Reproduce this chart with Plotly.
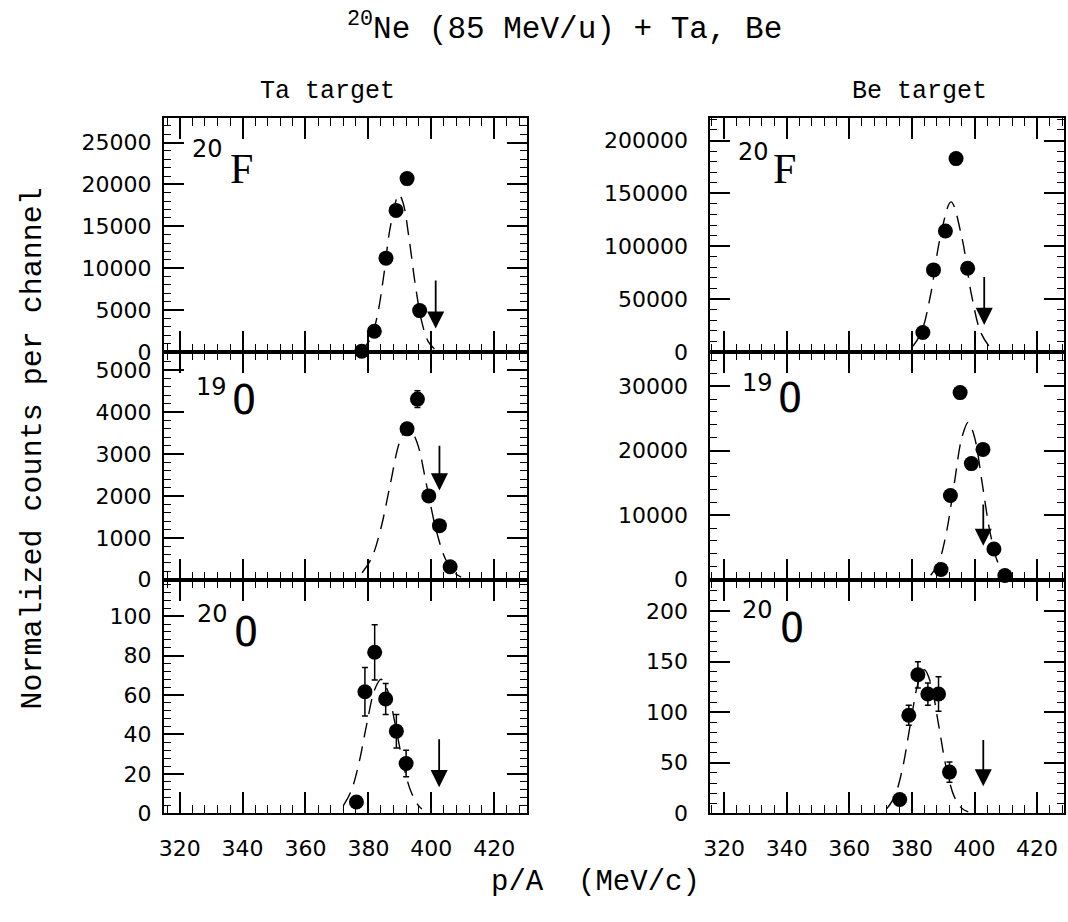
import plotly.graph_objects as go

# ---------------- data ----------------
# Ta target, 20F
ta_f20_x = [377.9, 381.9, 385.6, 388.8, 392.3, 396.3]
ta_f20_y = [100, 2470, 11200, 16900, 20700, 4940]
ta_f20_err = [0, 0, 0, 0, 0, 0]
ta_f20_fit_x = [377, 379, 381, 383, 385, 387, 389.7, 391, 393, 395, 397, 399, 401]
ta_f20_fit_y = [120, 700, 1770, 4630, 9420, 14970, 18800, 17840, 13380, 7820, 3560, 1260, 350]
ta_f20_arrow = [401.4, 8700, 2800]          # x, top, tip

# Be target, 20F
be_f20_x = [383.5, 386.9, 390.7, 394.1, 397.8]
be_f20_y = [18400, 77600, 114400, 182900, 79200]
be_f20_err = [0, 0, 0, 0, 0]
be_f20_fit_x = [380, 383, 386, 389, 392.5, 396, 399, 402, 405]
be_f20_fit_y = [4160, 18440, 54600, 107600, 142000, 107600, 54600, 18440, 4160]
be_f20_arrow = [403.1, 72300, 25600]

# Ta target, 19O
ta_o19_x = [392.3, 395.6, 399.2, 402.6, 406.0]
ta_o19_y = [3600, 4310, 2000, 1290, 310]
ta_o19_err = [0, 200, 0, 0, 0]
ta_o19_fit_x = [378, 381, 384, 387, 390, 392.7, 395.5, 398.5, 401.5, 404.5, 407.5, 409.5]
ta_o19_fit_y = [165, 511, 1233, 2295, 3296, 3660, 3270, 2258, 1204, 495, 157, 64]
ta_o19_arrow = [402.6, 3230, 2130]

# Be target, 19O
be_o19_x = [389.3, 392.3, 395.4, 399.0, 402.7, 406.2, 409.7]
be_o19_y = [1580, 13060, 29000, 18000, 20200, 4750, 660]
be_o19_err = [0, 0, 0, 0, 0, 0, 0]
be_o19_fit_x = [386, 388.5, 391, 393.5, 396, 398, 400, 402.5, 405, 407.5, 410]
be_o19_fit_y = [696, 2630, 7270, 14800, 22100, 24400, 22100, 14800, 7270, 2630, 696]
be_o19_arrow = [402.8, 11900, 5250]

# Ta target, 20O
ta_o20_x = [376.2, 378.9, 382.0, 385.5, 388.9, 392.0]
ta_o20_y = [5.8, 61.7, 81.7, 58, 41.7, 25.3]
ta_o20_err = [1.5, 12.3, 14, 7.8, 8.5, 6.7]
ta_o20_fit_x = [372, 374.5, 377, 379.5, 382, 384, 386, 388.5, 391, 393.5, 396, 397]
ta_o20_fit_y = [3.8, 11.2, 25.5, 45.4, 62.8, 68, 62.8, 45.4, 25.5, 11.2, 3.8, 2.3]
ta_o20_arrow = [402.5, 38.3, 13.3]

# Be target, 20O
be_o20_x = [376.1, 379.0, 381.9, 385.1, 388.5, 392.0]
be_o20_y = [13.7, 97, 137, 118, 118, 40.8]
be_o20_err = [2, 10, 13, 11, 17, 10]
be_o20_fit_x = [372, 374.5, 377, 379.5, 382, 384, 386, 388.5, 391, 393.5, 396, 398]
be_o20_fit_y = [4.7, 16.8, 44.6, 88, 129, 142, 129, 88, 44.6, 16.8, 4.7, 1.4]
be_o20_arrow = [402.8, 74, 26.8]

# axis settings
x_major_ticks = [320, 340, 360, 380, 400, 420]
ta_y_max = [27900, 5435, 118.5]
be_y_max = [221000, 35300, 231]
ta_y_dtick = [5000, 1000, 20]
be_y_dtick = [50000, 10000, 50]
ta_y_minor = [1000, 200, 4]
be_y_minor = [10000, 2000, 10]
isotope_mass = ["20", "19", "20"]
isotope_elem = ["F", "O", "O"]

# ---------------- layout geometry ----------------
W, H = 1068, 922
col_px = [(158, 523), (708, 1064)]
row_px = [(120, 357), (357, 588), (588, 825)]
x_ranges = [(315.0, 430.3), (315.6, 428.6)]

def px(x):
    return x / W

def py(y):
    return 1 - y / H

panels = [
    # (row, col, x, y, err, fitx, fity, arrow)
    (0, 0, ta_f20_x, ta_f20_y, ta_f20_err, ta_f20_fit_x, ta_f20_fit_y, ta_f20_arrow),
    (0, 1, be_f20_x, be_f20_y, be_f20_err, be_f20_fit_x, be_f20_fit_y, be_f20_arrow),
    (1, 0, ta_o19_x, ta_o19_y, ta_o19_err, ta_o19_fit_x, ta_o19_fit_y, ta_o19_arrow),
    (1, 1, be_o19_x, be_o19_y, be_o19_err, be_o19_fit_x, be_o19_fit_y, be_o19_arrow),
    (2, 0, ta_o20_x, ta_o20_y, ta_o20_err, ta_o20_fit_x, ta_o20_fit_y, ta_o20_arrow),
    (2, 1, be_o20_x, be_o20_y, be_o20_err, be_o20_fit_x, be_o20_fit_y, be_o20_arrow),
]

fig = go.Figure()
layout = dict(
    width=W, height=H,
    margin=dict(l=0, r=0, t=0, b=0),
    paper_bgcolor="white", plot_bgcolor="white",
    showlegend=False,
)
annotations = []
tickfont = dict(family="DejaVu Sans", size=22, color="black")

for k, (row, col, xs, ys, errs, fx, fy, arr) in enumerate(panels, start=1):
    xname = "x" if k == 1 else f"x{k}"
    yname = "y" if k == 1 else f"y{k}"
    xkey = "xaxis" if k == 1 else f"xaxis{k}"
    ykey = "yaxis" if k == 1 else f"yaxis{k}"
    x0, x1 = col_px[col]
    y0, y1 = row_px[row]
    ymax = (ta_y_max if col == 0 else be_y_max)[row]
    ydt = (ta_y_dtick if col == 0 else be_y_dtick)[row]
    ymn = (ta_y_minor if col == 0 else be_y_minor)[row]

    layout[xkey] = dict(
        domain=[px(x0), px(x1)], anchor=yname, range=list(x_ranges[col]),
        tickmode="array", tickvals=x_major_ticks,
        ticks="inside", ticklen=21, tickwidth=1.5, tickcolor="black",
        minor=dict(dtick=4, tick0=320, ticks="inside", ticklen=8, tickwidth=1.3, tickcolor="black"),
        showline=True, linecolor="black", linewidth=2, mirror="allticks",
        showgrid=False, zeroline=False,
        showticklabels=(row == 2), tickfont=tickfont, ticklabelstandoff=14,
    )
    layout[ykey] = dict(
        domain=[py(y1), py(y0)], anchor=xname, range=[0, ymax],
        tick0=0, dtick=ydt, tickformat="d",
        ticks="inside", ticklen=20, tickwidth=1.5, tickcolor="black",
        minor=dict(dtick=ymn, tick0=0, ticks="inside", ticklen=7, tickwidth=1.3, tickcolor="black"),
        showline=True, linecolor="black", linewidth=2, mirror="allticks",
        showgrid=False, zeroline=False,
        tickfont=tickfont, ticklabelstandoff=(6 if col == 0 else 16),
    )

    fig.add_trace(go.Scatter(
        x=fx, y=fy, xaxis=xname, yaxis=yname, mode="lines",
        line=dict(color="black", width=1.4, dash="15px,9px", shape="spline"),
        hoverinfo="skip",
    ))
    fig.add_trace(go.Scatter(
        x=xs, y=ys, xaxis=xname, yaxis=yname, mode="markers",
        marker=dict(color="black", size=15),
        error_y=dict(type="data", array=errs, color="black", thickness=1.5, width=3),
        cliponaxis=False,
    ))
    annotations.append(dict(
        x=arr[0], y=arr[2], ax=arr[0], ay=arr[1],
        xref=xname, yref=yname, axref=xname, ayref=yname,
        showarrow=True, arrowhead=2, arrowsize=1.9, arrowwidth=1.8,
        arrowcolor="black", text="",
    ))

# isotope labels (pixel positions of superscript mass number and element symbol)
sup_px = {(0, 0): (202, 151), (0, 1): (751, 154), (1, 0): (206, 393),
          (1, 1): (755, 388), (2, 0): (207, 623), (2, 1): (755, 619)}
elem_px = {(0, 0): (236, 171), (0, 1): (783, 171), (1, 0): (239, 406),
           (1, 1): (788, 404), (2, 0): (241, 641), (2, 1): (790, 637)}
for row in range(3):
    for col in range(2):
        sx, sy = sup_px[(row, col)]
        ex, ey = elem_px[(row, col)]
        annotations.append(dict(
            x=px(sx), y=py(sy), xref="paper", yref="paper", showarrow=False,
            text=isotope_mass[row], font=dict(family="DejaVu Sans", size=24, color="black"),
            xanchor="center", yanchor="middle",
        ))
        efont = (dict(family="Liberation Serif", size=42, color="black")
                 if isotope_elem[row] == "F"
                 else dict(family="DejaVu Sans Mono", size=40, color="black"))
        annotations.append(dict(
            x=px(ex), y=py(ey), xref="paper", yref="paper", showarrow=False,
            text=isotope_elem[row], font=efont, xanchor="center", yanchor="middle",
        ))

mono = "Liberation Mono"
annotations += [
    dict(x=px(561), y=py(27), xref="paper", yref="paper", showarrow=False,
         text="<sup>20</sup>Ne (85 MeV/u) + Ta, Be",
         font=dict(family=mono, size=31, color="black"), xanchor="center", yanchor="middle"),
    dict(x=px(323), y=py(93), xref="paper", yref="paper", showarrow=False,
         text="Ta target", font=dict(family=mono, size=25, color="black"),
         xanchor="center", yanchor="middle"),
    dict(x=px(919), y=py(93), xref="paper", yref="paper", showarrow=False,
         text="Be target", font=dict(family=mono, size=25, color="black"),
         xanchor="center", yanchor="middle"),
    dict(x=px(592), y=py(895), xref="paper", yref="paper", showarrow=False,
         text="p/A  (MeV/c)", font=dict(family=mono, size=29, color="black"),
         xanchor="center", yanchor="middle"),
    dict(x=px(26), y=py(455), xref="paper", yref="paper", showarrow=False,
         text="Normalized counts per channel", textangle=-90,
         font=dict(family=mono, size=30, color="black"),
         xanchor="center", yanchor="middle"),
]
layout["annotations"] = annotations
fig.update_layout(**layout)
fig.write_html("out.html")
